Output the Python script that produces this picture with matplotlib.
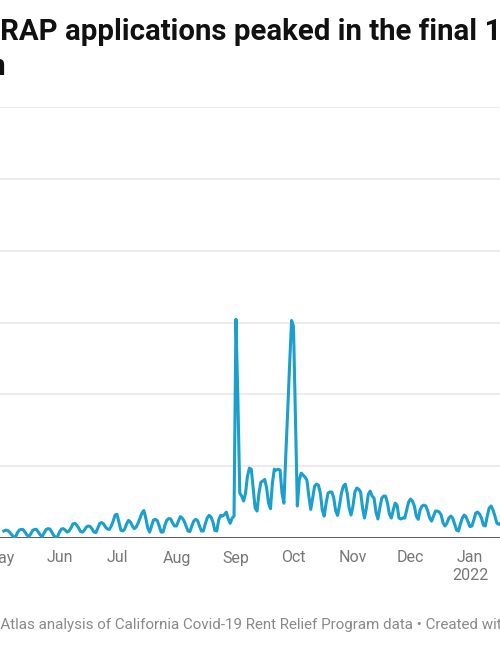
import pandas as pd
import matplotlib
matplotlib.use('Agg')
import matplotlib.pyplot as plt
import matplotlib.dates as mdates

plt.rcParams['font.family'] = ['Roboto', 'DejaVu Sans']

# daily applications (2021-05-03 .. 2022-01-17)
may = [195, 220, 210, 165, 95, 30, 15,
       140, 220, 240, 235, 165, 85, 40,
       110, 210, 240, 240, 165, 85, 40,
       140, 235, 260, 250, 165, 70, 20,
       40]
jun = [165, 250, 260, 220, 165, 195,
       280, 390, 410, 360, 280, 180, 165,
       220, 305, 335, 320, 250, 165, 150,
       280, 405, 430, 390, 305, 250, 240,
       335, 470, 640]
jul = [660, 445, 220, 195,
       250, 390, 490, 445, 335, 260, 305,
       415, 555, 695, 765, 555, 280, 165,
       335, 500, 520, 485, 335, 165, 165,
       360, 500, 540, 530, 415, 335]
aug = [335,
       470, 595, 555, 470, 335, 195, 180,
       335, 470, 520, 485, 335, 195, 195,
       390, 555, 630, 585, 445, 210, 195,
       500, 630, 610, 655, 720, 530, 410,
       555, 610]
sep = [6090, 3890, 1250, 1165, 1030,
       1250, 1720, 1945, 1915, 1390, 835, 750,
       1250, 1555, 1585, 1630, 1390, 970, 815,
       1530, 1915, 1890, 1915, 1890, 1250, 970,
       2335, 3555, 4860, 6055]
oct_ = [5890, 3335, 890,
        1610, 1805, 1750, 1695, 1610, 1165, 795,
        1110, 1445, 1500, 1470, 1250, 780, 610,
        970, 1250, 1280, 1280, 1110, 750, 630,
        915, 1250, 1445, 1500, 1250, 835, 640]
nov = [890, 1280, 1390, 1360, 1280, 835, 555,
       835, 1220, 1305, 1165, 1110, 720, 530,
       835, 1110, 1165, 1165, 970, 665, 555,
       780, 970, 915, 555, 530, 555, 555,
       780, 1000]
dec = [1085, 1030, 890, 610, 520,
       780, 890, 915, 890, 750, 555, 470,
       610, 750, 750, 720, 640, 415, 335,
       415, 555, 610, 555, 390, 220, 195,
       390, 555, 640, 585, 445]
jan = [315, 335,
       500, 695, 720, 665, 555, 360, 335,
       610, 835, 890, 780, 610, 415, 380,
       415]

values = may + jun + jul + aug + sep + oct_ + nov + dec + jan
dates = pd.date_range('2021-05-03', periods=len(values), freq='D')

month_ticks = pd.date_range('2021-05-01', '2022-01-01', freq='MS')
month_labels = ['May', 'Jun', 'Jul', 'Aug', 'Sep', 'Oct', 'Nov', 'Dec', 'Jan\n2022']
y_grid = [0, 2000, 4000, 6000, 8000, 10000, 12000]

W, H = 500, 646
fig = plt.figure(figsize=(W / 100, H / 100), dpi=100)
ax = fig.add_axes([0, 108 / H, 1, 431 / H])

ax.plot(dates, values, color='#1b9fcc', lw=2.2, solid_joinstyle='round', zorder=3)

left = mdates.date2num(pd.Timestamp('2021-05-04')) + 0.45
ax.set_xlim(left, left + W / 1.944)
ax.set_ylim(0, 12000)

ax.set_yticks(y_grid)
ax.set_yticklabels([])
ax.yaxis.grid(True, color='#e6e6e6', lw=1.1)
ax.axhline(0, color='#333333', lw=1.1, zorder=2)
ax.set_xticks(mdates.date2num(month_ticks))
ax.set_xticklabels(month_labels, linespacing=1.25)
ax.tick_params(axis='x', length=0, pad=9, labelsize=11.5, labelcolor='#777777')
ax.tick_params(axis='y', length=0)
for s in ax.spines.values():
    s.set_visible(False)

renderer = fig.canvas.get_renderer()


def put_text(y_px, prefix, rest, **kw):
    # place text so that "rest" begins at the left edge of the picture
    t = fig.text(0, 0, prefix, **kw)
    w = t.get_window_extent(renderer).width
    t.remove()
    fig.text(-w / W, 1 - y_px / H, prefix + rest, va='baseline', **kw)


title_kw = dict(fontsize=21.2, fontweight='bold', color='#111111')
put_text(40, 'Statewide E', 'RAP applications peaked in the final 10 days of the', **title_kw)
put_text(75, 'Statewide E', '', **title_kw)
fig.texts[-1].set_text('eviction ban')

put_text(629, 'Source: Housing ',
         'Atlas analysis of California Covid-19 Rent Relief Program data \u2022 Created with Datawrapper',
         fontsize=10.9, color='#8a8a8a')

fig.savefig('out.png', dpi=100)
